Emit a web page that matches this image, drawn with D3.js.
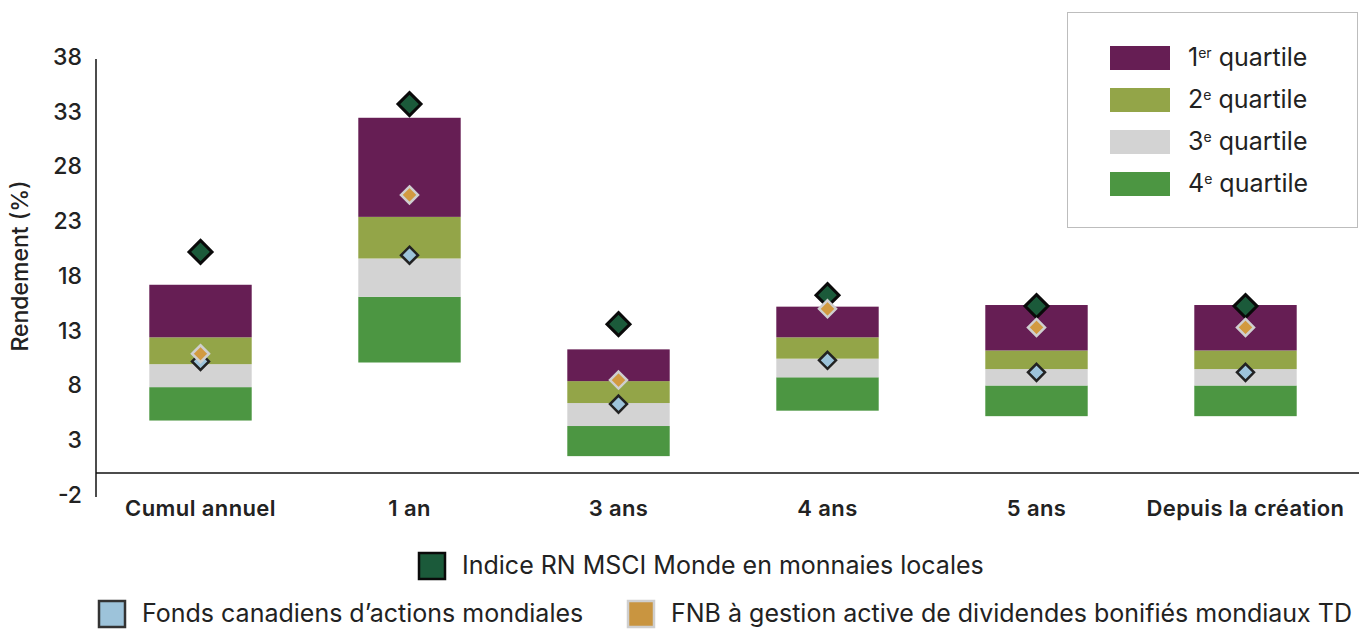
<!DOCTYPE html>
<html><head><meta charset="utf-8">
<script src="https://cdn.jsdelivr.net/npm/d3@7"></script>
<style>body{margin:0;background:#fff;} text{font-family:Inter,"Open Sans",sans-serif;fill:#222;}</style>
</head><body>
<svg id="c" width="1359" height="629"></svg>
<script>
const categories = ["Cumul annuel","1 an","3 ans","4 ans","5 ans","Depuis la création"];
// quartile boundaries: bottom (4th quartile low), q4 top, q3 top, q2 top, q1 top
const q4Low  = [4.8, 10.1, 1.55, 5.7, 5.2, 5.2];
const q4High = [7.85, 16.1, 4.3, 8.75, 8.0, 8.0];
const q3High = [9.95, 19.6, 6.4, 10.45, 9.5, 9.5];
const q2High = [12.4, 23.4, 8.4, 12.4, 11.2, 11.2];
const q1High = [17.2, 32.45, 11.3, 15.2, 15.35, 15.35];
const indexVals = [20.2, 33.7, 13.6, 16.25, 15.25, 15.25];
const fundVals  = [10.2, 19.9, 6.3, 10.3, 9.2, 9.2];
const tdVals    = [10.9, 25.4, 8.5, 15.0, 13.3, 13.3];
const yTicks = [-2, 3, 8, 13, 18, 23, 28, 33, 38];
const quartileLabels = [["1","er"," quartile"],["2","e"," quartile"],["3","e"," quartile"],["4","e"," quartile"]];
const quartileColors = ["#661e54","#93a548","#d3d3d3","#4c9642"];
const markerNames = ["Indice RN MSCI Monde en monnaies locales","Fonds canadiens d’actions mondiales","FNB à gestion active de dividendes bonifiés mondiaux TD"];

const svg = d3.select("#c");
const x = d3.scaleBand().domain(categories).range([96, 1350]).paddingInner(0.51).paddingOuter(0.255);
const y = d3.scaleLinear().domain([-2, 38]).range([495, 57]);

// axes
const yAxis = d3.axisLeft(y).tickValues(yTicks).tickSize(0).tickPadding(14).tickFormat(d => String(d));
const gy = svg.append("g").attr("transform","translate(96,0)").call(yAxis);
gy.select(".domain").attr("stroke","#111").attr("stroke-width",1.5).attr("d","M0,59V497");
gy.selectAll("text").style("font-size","23px").style("font-weight","500").attr("fill","#222");

svg.append("line").attr("x1",96).attr("x2",1359).attr("y1",y(0)).attr("y2",y(0)).attr("stroke","#111").attr("stroke-width",1.5);

const xAxis = d3.axisBottom(x).tickSize(0).tickPadding(0);
const gx = svg.append("g").attr("transform","translate(0,500)").call(xAxis);
gx.select(".domain").remove();
gx.selectAll("text").style("font-size","22px").style("font-weight","600").style("letter-spacing","0.4px").attr("fill","#222").attr("dy","0.72em");

svg.append("text").attr("transform","translate(22,266) rotate(-90)").attr("text-anchor","middle")
  .attr("dominant-baseline","middle").style("font-size","23px").style("font-weight","500").text("Rendement (%)");

// bars
const segs = [];
categories.forEach((c,i)=>{
  const b = [q4Low[i], q4High[i], q3High[i], q2High[i], q1High[i]];
  for (let k=0;k<4;k++) segs.push({c, lo:b[k], hi:b[k+1], color: quartileColors[3-k]});
});
svg.append("g").selectAll("rect").data(segs).join("rect")
  .attr("x", d=>x(d.c)).attr("width", x.bandwidth())
  .attr("y", d=>y(d.hi)).attr("height", d=>y(d.lo)-y(d.hi)).attr("fill", d=>d.color);

// diamonds
function diamond(g, cx, cy, r, fill, stroke, sw){
  g.append("path").attr("d",`M${cx},${cy-r}L${cx+r},${cy}L${cx},${cy+r}L${cx-r},${cy}Z`)
    .attr("fill",fill).attr("stroke",stroke).attr("stroke-width",sw).attr("stroke-linejoin","miter");
}
const gm = svg.append("g");
categories.forEach((c,i)=>{
  const cx = x(c)+x.bandwidth()/2;
  diamond(gm, cx, y(indexVals[i]), 11.5, "#1b5a3a", "#0a0a0a", 3);
});
categories.forEach((c,i)=>{
  const cx = x(c)+x.bandwidth()/2;
  diamond(gm, cx, y(fundVals[i]), 8.5, "#9dc3da", "#222", 2.5);
});
categories.forEach((c,i)=>{
  const cx = x(c)+x.bandwidth()/2;
  diamond(gm, cx, y(tdVals[i]), 8.5, "#d29a40", "#cfcfcf", 2.5);
});

// quartile legend
const lg = svg.append("g");
lg.append("rect").attr("x",1067.5).attr("y",12.5).attr("width",290).attr("height",215).attr("fill","#fff").attr("stroke","#bdbdbd").attr("stroke-width",1);
quartileLabels.forEach((lab,k)=>{
  const yy = 46 + k*42;
  lg.append("rect").attr("x",1110).attr("y",yy).attr("width",60).attr("height",24).attr("fill",quartileColors[k]);
  const t = lg.append("text").attr("x",1188).attr("y",yy+20).style("font-size","25px");
  t.append("tspan").text(lab[0]);
  t.append("tspan").attr("dy",-8).style("font-size","14px").text(lab[1]);
  t.append("tspan").attr("dy",8).text(lab[2]);
});

// marker legend
const ml = svg.append("g");
const items = [
  {x:419, y:553, fill:"#1b5a3a", stroke:"#0a0a0a", name:markerNames[0]},
  {x:99, y:601, fill:"#9dc3da", stroke:"#333", name:markerNames[1]},
  {x:628, y:601, fill:"#c99540", stroke:"#cfcfcf", name:markerNames[2]}
];
items.forEach(it=>{
  ml.append("rect").attr("x",it.x).attr("y",it.y).attr("width",26).attr("height",26).attr("fill",it.fill).attr("stroke",it.stroke).attr("stroke-width",2.5);
  ml.append("text").attr("x",it.x+43).attr("y",it.y+21).style("font-size","25px").text(it.name);
});
</script>
</body></html>
